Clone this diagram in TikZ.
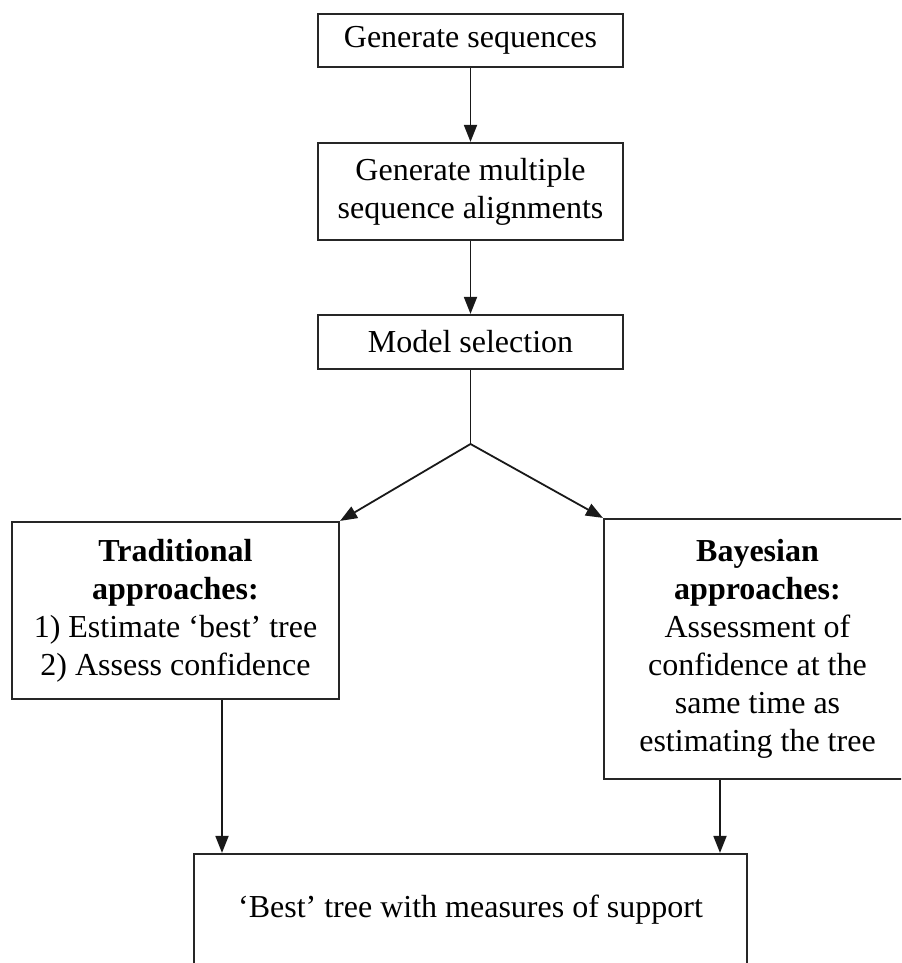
\documentclass[tikz,border=0pt]{standalone}
\usepackage{fontspec}
\setmainfont{Liberation Serif}
\usetikzlibrary{arrows.meta}
\begin{document}
\begin{tikzpicture}[x=0.5pt,y=-0.5pt,
  box/.style={draw=black!85, line width=1.1pt, inner sep=0pt, align=center,
    font=\fontsize{16}{19}\selectfont, fill=none},
  arr/.style={draw=black!90, line width=0.9pt, -{Triangle[length=8.5pt,width=6.5pt]}},
  link/.style={draw=black!90, line width=0.9pt}]
  \useasboundingbox (0,0) rectangle (901,963);
  \clip (0,0) rectangle (901,963);

  % pipeline boxes
  \node[box, minimum width=152.5pt, minimum height=26.5pt] (gen) at (470.5,40.5) {Generate sequences};
  \node[box, minimum width=152.5pt, minimum height=48.5pt] (msa) at (470.5,191.5) {Generate multiple\\sequence alignments};
  \node[box, minimum width=152.5pt, minimum height=27pt] (model) at (470.5,342) {Model selection};

  % the two approaches
  \node[box, minimum width=163.5pt, minimum height=88.5pt] (trad) at (175.5,610.5)
    {\textbf{Traditional}\\\textbf{approaches:}\\1) Estimate `best' tree\\2) Assess confidence};
  \node[box, minimum width=153.5pt, minimum height=130pt] (bayes) at (757.5,649)
    {\textbf{Bayesian}\\\textbf{approaches:}\\Assessment of\\confidence at the\\same time as\\estimating the tree};

  % result
  \node[box, minimum width=276.5pt, minimum height=56pt] (best) at (470.5,910)
    {`Best' tree with measures of support};

  \coordinate (fork) at (470.5,444);

  % connectors
  \draw[arr] (gen.south) -- (msa.north);
  \draw[arr] (msa.south) -- (model.north);
  \draw[link] (model.south) -- (fork);
  \draw[arr] (fork) -- (trad.north east);
  \draw[arr] (fork) -- (bayes.north west);
  \draw[arr] ([xshift=23.25pt]trad.south) -- ([xshift=23.25pt]trad.south |- best.north);
  \draw[arr] ([xshift=-18.75pt]bayes.south) -- ([xshift=-18.75pt]bayes.south |- best.north);
\end{tikzpicture}
\end{document}
